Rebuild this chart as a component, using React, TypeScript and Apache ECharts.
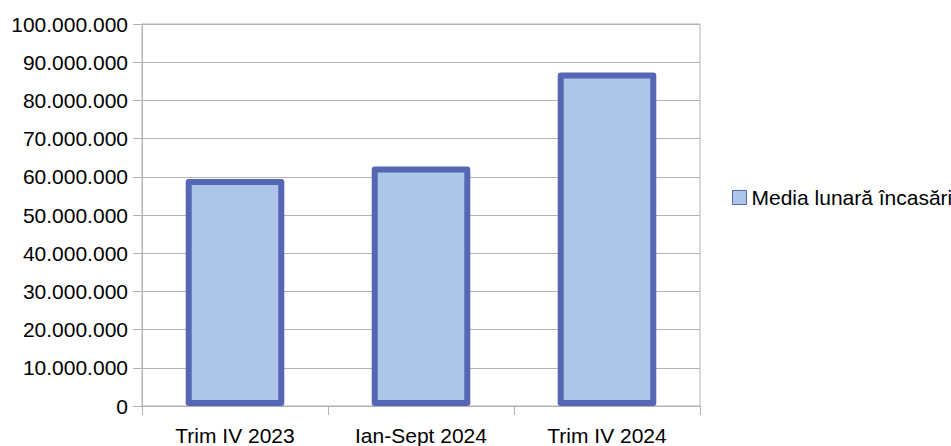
import React, { useEffect, useRef } from "react";
import * as echarts from "echarts";

const categories = ["Trim IV 2023", "Ian-Sept 2024", "Trim IV 2024"];
const seriesName = "Media lunară încasări";
const values = [59400000, 62700000, 87300000];
const yMin = 0;
const yMax = 100000000;
const yInterval = 10000000;

const fmt = (v: number) =>
  String(Math.round(v)).replace(/\B(?=(\d{3})+(?!\d))/g, ".");

export default function App() {
  const ref = useRef<HTMLDivElement>(null);
  useEffect(() => {
    document.body.style.margin = "0";
    if (!ref.current) return;
    const chart = echarts.init(ref.current, null, { renderer: "svg" });
    const font = "'Liberation Sans', Arial, sans-serif";
    const gray = "#b3b3b3";
    chart.setOption({
      animation: false,
      backgroundColor: "#ffffff",
      textStyle: { fontFamily: font },
      grid: {
        left: 142,
        right: 251,
        top: 24,
        bottom: 40,
        show: true,
        borderColor: gray,
        borderWidth: 1,
      },
      legend: {
        show: true,
        left: 727,
        top: 182,
        itemWidth: 14,
        itemHeight: 14,
        icon: "rect",
        data: [seriesName],
        textStyle: { fontSize: 21, color: "#000", fontFamily: font },
        itemStyle: { color: "#adc5e7", borderColor: "#5566b5", borderWidth: 1 },
      },
      xAxis: {
        type: "category",
        data: categories,
        boundaryGap: true,
        axisLine: { show: true, lineStyle: { color: gray, width: 1 } },
        axisTick: { show: true, length: 9, inside: false, alignWithLabel: false, lineStyle: { color: gray } },
        axisLabel: { color: "#000", fontSize: 21, margin: 19, fontFamily: font },
        splitLine: { show: false },
      },
      yAxis: {
        type: "value",
        min: yMin,
        max: yMax,
        interval: yInterval,
        axisLine: { show: true, lineStyle: { color: gray, width: 1 } },
        axisTick: { show: true, length: 9, lineStyle: { color: gray } },
        axisLabel: {
          color: "#000",
          fontSize: 21,
          margin: 14,
          fontFamily: font,
          formatter: (v: number) => fmt(v),
        },
        splitLine: { show: true, lineStyle: { color: gray, width: 1 } },
      },
      series: [
        {
          name: seriesName,
          type: "bar",
          data: values,
          barWidth: "53%",
          itemStyle: {
            color: "#adc5e7",
            borderColor: "#5566b5",
            borderWidth: 6,
            borderJoin: "round",
          },
        },
      ],
    });
    return () => chart.dispose();
  }, []);
  return <div ref={ref} style={{ width: 951, height: 446 }} />;
}
